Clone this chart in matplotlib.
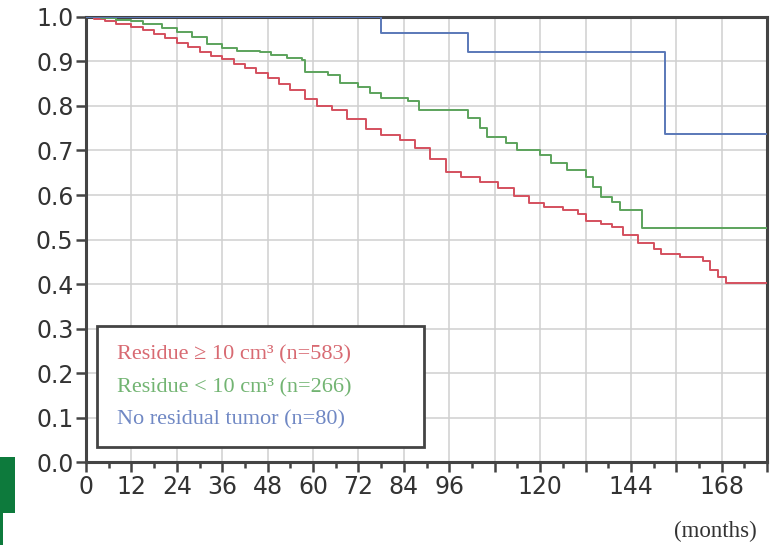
import numpy as np
import matplotlib
matplotlib.use("Agg")
import matplotlib.pyplot as plt
from matplotlib.patches import Rectangle

# Kaplan-Meier curves (months, survival)
red_t = [0, 2, 5, 8, 12, 15, 18, 21, 24, 27, 30, 33, 36, 39, 42, 45, 48, 51, 54, 58, 61,
         65, 69, 74, 78, 83, 87, 91, 95, 99, 104, 109, 113, 117, 121, 126, 130, 132, 136,
         139, 142, 146, 150, 152, 157, 163, 165, 167, 169, 180]
red_s = [1.0, 0.996, 0.99, 0.984, 0.978, 0.97, 0.962, 0.952, 0.942, 0.932, 0.922, 0.913,
         0.905, 0.895, 0.885, 0.874, 0.862, 0.849, 0.835, 0.815, 0.8, 0.79, 0.77, 0.748,
         0.735, 0.724, 0.705, 0.68, 0.652, 0.64, 0.63, 0.615, 0.598, 0.582, 0.572, 0.566,
         0.558, 0.542, 0.535, 0.528, 0.51, 0.492, 0.478, 0.468, 0.461, 0.452, 0.432,
         0.415, 0.402, 0.402]

green_t = [0, 4, 8, 12, 15, 20, 24, 28, 32, 36, 40, 46, 49, 53, 57, 58, 64, 67, 72, 75, 78,
           85, 88, 100, 101, 104, 106, 111, 114, 120, 123, 127, 132, 134, 136, 139, 141,
           147, 180]
green_s = [1.0, 0.997, 0.993, 0.99, 0.985, 0.975, 0.966, 0.955, 0.94, 0.93, 0.924, 0.922,
           0.914, 0.908, 0.903, 0.877, 0.870, 0.851, 0.842, 0.83, 0.817, 0.81, 0.791, 0.791,
           0.773, 0.75, 0.73, 0.716, 0.70, 0.69, 0.672, 0.656, 0.64, 0.618, 0.596, 0.584,
           0.566, 0.526, 0.526]

blue_t = [0, 78, 101, 153, 180]
blue_s = [1.0, 0.964, 0.921, 0.737, 0.737]

labels = ["Residue \u2265 10 cm\u00b3 (n=583)",
          "Residue < 10 cm\u00b3 (n=266)",
          "No residual tumor (n=80)"]
colors = ["#d4505e", "#5ca35c", "#5a78b8"]
text_colors = ["#d86a72", "#72b472", "#7088c4"]

x_ticks = np.arange(0, 181, 12)
x_labels = ["0", "12", "24", "36", "48", "60", "72", "84", "96", "", "120", "", "144", "", "168", ""]
y_ticks = np.round(np.arange(0, 1.01, 0.1), 1)

fig = plt.figure(figsize=(7.82, 5.45), dpi=100)
ax = fig.add_axes([0.110, 0.152, 0.871, 0.817])

for t, s, c in zip([red_t, green_t, blue_t], [red_s, green_s, blue_s], colors):
    ax.step(t, s, where="post", color=c, lw=1.4, zorder=3)

ax.set_xlim(0, 180)
ax.set_ylim(0, 1.0)
ax.set_xticks(x_ticks)
ax.set_xticklabels(x_labels)
ax.set_xticks(np.arange(0, 181, 6), minor=True)
ax.set_yticks(y_ticks)
ax.set_yticklabels(["%.1f" % v for v in y_ticks])
ax.grid(True, which="major", color="#d0d0d0", lw=1.1)
ax.set_axisbelow(True)

for sp in ax.spines.values():
    sp.set_color("#444444")
    sp.set_linewidth(2.2)
ax.tick_params(axis="both", which="major", direction="out", length=7, width=1.8,
               color="#444444", labelsize=17, labelcolor="#333333")
ax.tick_params(axis="x", which="minor", direction="out", length=4, width=1.8, color="#444444")
ax.tick_params(axis="y", pad=2)
ax.tick_params(axis="x", pad=2)

# legend box with coloured text only
box = Rectangle((0.016, 0.035), 0.48, 0.27, transform=ax.transAxes, fill=True,
                facecolor="white", edgecolor="#444444", lw=2, zorder=4)
ax.add_patch(box)
for i, (lab, tc) in enumerate(zip(labels, text_colors)):
    ax.text(0.046, 0.24 - i * 0.073, lab, transform=ax.transAxes, color=tc,
            fontsize=16, family="Liberation Serif", va="center", zorder=5)

fig.text(0.915, 0.024, "(months)", fontsize=16.5, family="Liberation Serif",
         color="#333333", ha="center", va="center")

# green artifact at lower left
fig.patches.append(Rectangle((0, 0), 15 / 782, 88 / 545, transform=fig.transFigure,
                             facecolor="#0d7a3c", edgecolor="none"))
fig.patches.append(Rectangle((3 / 782, 0), 12 / 782, 32 / 545, transform=fig.transFigure,
                             facecolor="white", edgecolor="none"))

fig.savefig("out.png", dpi=100)
